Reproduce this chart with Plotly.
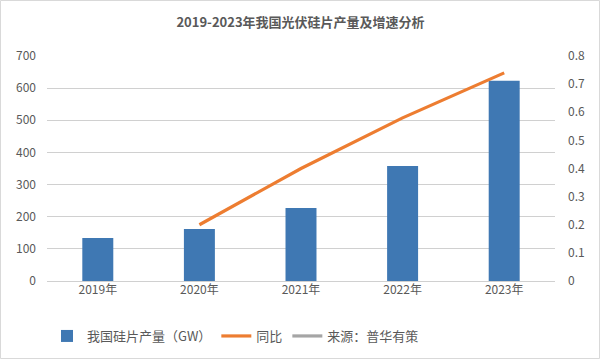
import plotly.graph_objects as go

years = ["2019年", "2020年", "2021年", "2022年", "2023年"]
output_gw = [134, 162, 227, 358, 623]
yoy_years = ["2020年", "2021年", "2022年", "2023年"]
yoy = [0.20, 0.40, 0.58, 0.74]
left_ticks = [0, 100, 200, 300, 400, 500, 600, 700]
right_ticks = [0, 0.1, 0.2, 0.3, 0.4, 0.5, 0.6, 0.7, 0.8]
right_labels = ["0", "0.1", "0.2", "0.3", "0.4", "0.5", "0.6", "0.7", "0.8"]

W, H = 601, 360
L, R, T, B = 47, 46, 56, 79
font_family = "Noto Sans CJK SC, Noto Sans, sans-serif"
txt = "#595959"

fig = go.Figure()
fig.add_trace(go.Bar(
    x=years, y=output_gw, name="我国硅片产量（GW）",
    marker=dict(color="#3F78B3", line=dict(width=0)),
    width=0.305,
))
fig.add_trace(go.Scatter(
    x=yoy_years, y=yoy, name="同比", yaxis="y2", mode="lines",
    line=dict(color="#ED7D31", width=3.2),
))
fig.add_trace(go.Scatter(
    x=[None], y=[None], name="来源：普华有策", yaxis="y2", mode="lines",
    line=dict(color="#A5A5A5", width=3.2),
))

pw = W - L - R
ph = H - T - B
fig.add_shape(type="rect", xref="paper", yref="paper",
              x0=-(L - 0.5) / pw, x1=1 + (R - 1.5) / pw,
              y0=-(B - 1.5) / ph, y1=1 + (T - 0.5) / ph,
              line=dict(color="#D9D9D9", width=1), fillcolor="rgba(0,0,0,0)")

fig.update_layout(
    width=W, height=H,
    margin=dict(l=L, r=R, t=T, b=B, autoexpand=False),
    paper_bgcolor="white", plot_bgcolor="white",
    font=dict(family=font_family, size=12, color=txt),
    title=dict(text="<b>2019-2023年我国光伏硅片产量及增速分析</b>",
               x=0.5, xanchor="center", y=1 - 22 / H, yanchor="middle",
               font=dict(size=13, color=txt)),
    xaxis=dict(showgrid=False, showline=False, ticks="", automargin=False,
               tickfont=dict(size=12, color=txt)),
    yaxis=dict(range=[0, 700], tickvals=left_ticks, showgrid=True, gridcolor="#D0D0D0",
               gridwidth=1, zeroline=True, zerolinecolor="#D0D0D0", zerolinewidth=1,
               showline=False, automargin=False,
               ticks="", ticklabelstandoff=10, tickfont=dict(size=12, color=txt)),
    yaxis2=dict(range=[0, 0.8], tickvals=right_ticks, ticktext=right_labels,
                overlaying="y", side="right", automargin=False,
                showgrid=False, zeroline=False, showline=False, ticks="",
                ticklabelstandoff=12, tickfont=dict(size=12, color=txt)),
    legend=dict(orientation="h", x=0.0, xanchor="left", y=-(336 - (H - B)) / ph,
                yanchor="middle", font=dict(size=13, color=txt),
                traceorder="normal"),
    showlegend=True,
    bargap=0.7,
)

fig.write_html("out.html", config={"displayModeBar": False},
               post_script="document.body.style.margin='0';")
